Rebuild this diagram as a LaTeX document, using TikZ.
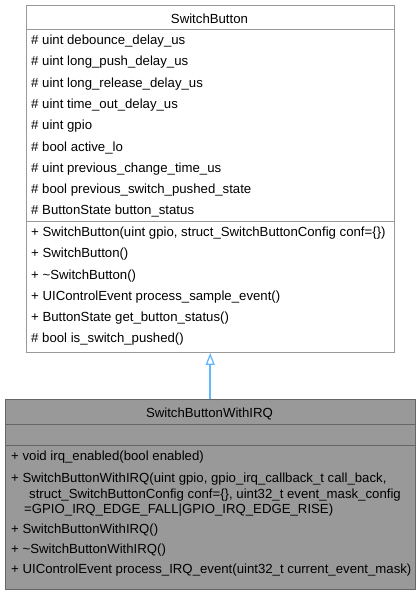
\documentclass[tikz,border=0pt]{standalone}
\usepackage{fontspec}
\setmainfont{Liberation Sans}
\usetikzlibrary{arrows.meta}
\definecolor{topline}{HTML}{999999}
\definecolor{irqfill}{HTML}{999999}
\definecolor{irqline}{HTML}{666666}
\definecolor{inherit}{HTML}{63B8FF}
\tikzset{
  topsec/.style={draw=topline, line width=1.4pt, fill=white, rectangle, inner sep=0pt, anchor=north west, minimum width=368pt},
  irqsec/.style={draw=irqline, line width=1.4pt, fill=irqfill, rectangle, inner sep=0pt, anchor=north west, minimum width=410pt},
  member/.style={anchor=base west, inner sep=0pt, font=\fontsize{13.2}{15}\selectfont},
  ctitle/.style={anchor=base, inner sep=0pt, font=\fontsize{13.2}{15}\selectfont},
  inharrow/.style={draw=inherit, line width=1.5pt, -{Triangle[open, length=12pt, width=9pt, line width=1.3pt]}},
}
\begin{document}
\begin{tikzpicture}[x=1pt, y=-1pt]
\useasboundingbox (0,0) rectangle (420,592);
% SwitchButton
\node[topsec, minimum height=24.5pt] (sbtitle) at (25.5,4.5) {};
\node[topsec, minimum height=191.5pt] (sbattr) at (25.5,29) {};
\node[topsec, minimum height=131pt] (sbmeth) at (25.5,220.5) {};
\node[ctitle] (sbname) at (209.5,23) {SwitchButton};
\node[member] (a1) at (31,44.5) {\# uint debounce\_delay\_us};
\node[member] (a2) at (31,65.8) {\# uint long\_push\_delay\_us};
\node[member] (a3) at (31,87.1) {\# uint long\_release\_delay\_us};
\node[member] (a4) at (31,108.4) {\# uint time\_out\_delay\_us};
\node[member] (a5) at (31,129.7) {\# uint gpio};
\node[member] (a6) at (31,151) {\# bool active\_lo};
\node[member] (a7) at (31,172.3) {\# uint previous\_change\_time\_us};
\node[member] (a8) at (31,193.6) {\# bool previous\_switch\_pushed\_state};
\node[member] (a9) at (31,214.9) {\# ButtonState button\_status};
\node[member] (m1) at (31,236.7) {+ SwitchButton(uint gpio, struct\_SwitchButtonConfig conf=\{\})};
\node[member] (m2) at (31,257.9) {+ SwitchButton()};
\node[member] (m3) at (31,279.1) {+ \textasciitilde SwitchButton()};
\node[member] (m4) at (31,300.3) {+ UIControlEvent process\_sample\_event()};
\node[member] (m5) at (31,321.5) {+ ButtonState get\_button\_status()};
\node[member] (m6) at (31,342.7) {\# bool is\_switch\_pushed()};
% SwitchButtonWithIRQ
\node[irqsec, minimum height=25.5pt] (irqtitle) at (4.5,398.5) {};
\node[irqsec, minimum height=21pt] (irqattr) at (4.5,424) {};
\node[irqsec, minimum height=144pt] (irqmeth) at (4.5,445) {};
\node[ctitle] (irqname) at (209.5,417.7) {SwitchButtonWithIRQ};
\node[member] (n1) at (11,460) {+ void irq\_enabled(bool enabled)};
\node[member] (n2a) at (11,482.7) {+ SwitchButtonWithIRQ(uint gpio, gpio\_irq\_callback\_t call\_back,};
\node[member] (n2b) at (29,498.3) {struct\_SwitchButtonConfig conf=\{\}, uint32\_t event\_mask\_config};
\node[member] (n2c) at (24,513.3) {=GPIO\_IRQ\_EDGE\_FALL|GPIO\_IRQ\_EDGE\_RISE)};
\node[member] (n3) at (11,533.3) {+ SwitchButtonWithIRQ()};
\node[member] (n4) at (11,553.3) {+ \textasciitilde SwitchButtonWithIRQ()};
\node[member] (n5) at (11,573.3) {+ UIControlEvent process\_IRQ\_event(uint32\_t current\_event\_mask)};
% inheritance
\draw[inharrow] (irqtitle.north) -- (sbmeth.south);
\end{tikzpicture}
\end{document}
